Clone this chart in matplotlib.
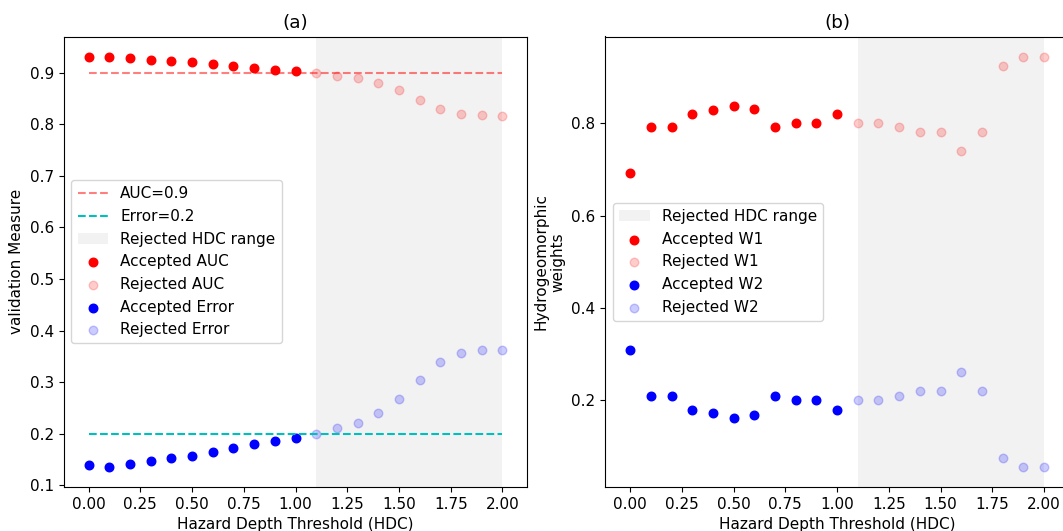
import numpy as np
import matplotlib
matplotlib.use("Agg")
import matplotlib.pyplot as plt

plt.rcParams['font.family'] = ['DejaVu Sans']
plt.rcParams['font.size'] = 11

# ---- data ----
hdc = [0.0, 0.1, 0.2, 0.3, 0.4, 0.5, 0.6, 0.7, 0.8, 0.9, 1.0,
       1.1, 1.2, 1.3, 1.4, 1.5, 1.6, 1.7, 1.8, 1.9, 2.0]
auc = [0.930, 0.931, 0.929, 0.925, 0.923, 0.921, 0.917, 0.913, 0.910, 0.906, 0.903,
       0.899, 0.894, 0.890, 0.880, 0.866, 0.848, 0.830, 0.821, 0.818, 0.817]
error = [0.138, 0.136, 0.141, 0.147, 0.153, 0.157, 0.164, 0.171, 0.179, 0.185, 0.192,
         0.200, 0.210, 0.220, 0.239, 0.268, 0.303, 0.339, 0.357, 0.363, 0.363]
w1 = [0.692, 0.792, 0.792, 0.821, 0.829, 0.838, 0.832, 0.792, 0.800, 0.800, 0.821,
      0.800, 0.800, 0.792, 0.781, 0.781, 0.740, 0.781, 0.925, 0.944, 0.944]
w2 = [0.308, 0.208, 0.208, 0.179, 0.171, 0.162, 0.168, 0.208, 0.200, 0.200, 0.179,
      0.200, 0.200, 0.208, 0.219, 0.219, 0.260, 0.219, 0.075, 0.056, 0.056]
auc_threshold = 0.9
error_threshold = 0.2
reject_start = 1.1
reject_end = 2.0
xticks = [0.0, 0.25, 0.5, 0.75, 1.0, 1.25, 1.5, 1.75, 2.0]

x = np.array(hdc)
acc = x <= 1.0 + 1e-9
rej = ~acc
auc = np.array(auc); error = np.array(error)
w1 = np.array(w1); w2 = np.array(w2)

W, H = 1063, 531
fig = plt.figure(figsize=(W / 100, H / 100), dpi=100)
ax1 = fig.add_axes([63.8 / W, (531 - 487) / H, 463.5 / W, 450.5 / H])
ax2 = fig.add_axes([605.3 / W, (531 - 487) / H, 463.5 / W, 450.5 / H])

# ---- panel (a) ----
ax1.plot([hdc[0], hdc[-1]], [auc_threshold] * 2, '--', color='red', alpha=0.5,
         label='AUC=0.9')
ax1.plot([hdc[0], hdc[-1]], [error_threshold] * 2, '--', color='c',
         label='Error=0.2')
ax1.axvspan(reject_start, reject_end, color='gray', alpha=0.1, lw=0,
            label='Rejected HDC range')
ax1.scatter(x[acc], auc[acc], color='red', s=38, label='Accepted AUC')
ax1.scatter(x[rej], auc[rej], color='red', alpha=0.2, s=38, label='Rejected AUC')
ax1.scatter(x[acc], error[acc], color='blue', s=38, label='Accepted Error')
ax1.scatter(x[rej], error[rej], color='blue', alpha=0.2, s=38, label='Rejected Error')
ax1.set_xlim(-0.12, 2.12)
ax1.set_xticks(xticks)
ax1.set_xlabel('Hazard Depth Threshold (HDC)')
ax1.set_ylabel('validation Measure')
ax1.set_title('(a)')
ax1.legend(loc='center left')

# ---- panel (b) ----
ax2.axvspan(reject_start, reject_end, color='gray', alpha=0.1, lw=0,
            label='Rejected HDC range')
ax2.scatter(x[acc], w1[acc], color='red', s=38, label='Accepted W1')
ax2.scatter(x[rej], w1[rej], color='red', alpha=0.2, s=38, label='Rejected W1')
ax2.scatter(x[acc], w2[acc], color='blue', s=38, label='Accepted W2')
ax2.scatter(x[rej], w2[rej], color='blue', alpha=0.2, s=38, label='Rejected W2')
ax2.set_xlim(-0.12, 2.12)
ax2.set_xticks(xticks)
ax2.set_yticks([0.2, 0.4, 0.6, 0.8])
ax2.set_xlabel('Hazard Depth Threshold (HDC)')
ax2.set_ylabel('Hydrogeomorphic\nweights')
ax2.set_title('(b)')
ax2.legend(loc='center left')

fig.savefig('out.png', dpi=100)
